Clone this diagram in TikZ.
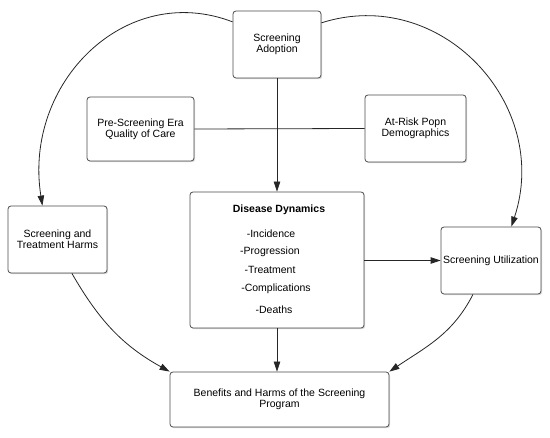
\documentclass[tikz,border=0pt]{standalone}
\usepackage{fontspec}
\setmainfont{Liberation Sans}
\usetikzlibrary{arrows.meta,shadows}
\begin{document}
\begin{tikzpicture}[x=1pt,y=1pt,
  box/.style={draw=black!70, line width=0.8pt, rounded corners=3pt, fill=white,
    align=center, inner sep=0pt, font=\fontsize{10.5}{11}\selectfont,
    drop shadow={shadow xshift=1.2pt, shadow yshift=-1.2pt, opacity=0.3}},
  txt/.style={inner sep=0pt, font=\fontsize{10.5}{11}\selectfont},
  conn/.style={draw=black!85, line width=0.8pt},
  arr/.style={conn, -{Triangle[length=10pt,width=6.5pt]}}]
\useasboundingbox (0,0) rectangle (550,-438);
% boxes
\node[box, minimum width=88pt, minimum height=67pt] (sa) at (277,-44.5) {Screening\\Adoption};
\node[box, minimum width=107pt, minimum height=64pt] (pre) at (140.5,-129) {Pre-Screening Era\\Quality of Care};
\node[box, minimum width=101pt, minimum height=67pt] (risk) at (415.5,-128.5) {At-Risk Popn\\Demographics};
\node[box, minimum width=174pt, minimum height=136pt] (dd) at (277,-260) {};
\node[box, minimum width=99pt, minimum height=67pt] (harms) at (57.5,-239.5) {Screening and\\Treatment Harms};
\node[box, minimum width=100pt, minimum height=67pt] (su) at (491,-260.5) {Screening Utilization};
\node[box, minimum width=219pt, minimum height=55pt] (ben) at (279.5,-399.5) {Benefits and Harms of the Screening\\Program};
% disease dynamics text
\node[txt, font=\fontsize{10.5}{11}\selectfont\bfseries] (ddt) at (279,-210) {Disease Dynamics};
\node[txt] (dd1) at (271,-234) {-Incidence};
\node[txt] (dd2) at (270,-252) {-Progression};
\node[txt] (dd3) at (270,-270) {-Treatment};
\node[txt] (dd4) at (276,-289) {-Complications};
\node[txt] (dd5) at (274,-310) {-Deaths};
% connectors
\draw[conn] (pre.east) -- (risk.west);
\draw[arr] (sa.south) -- (dd.north);
\draw[arr] (su.west -| dd.east) -- (su.west);
\draw[arr] (dd.south) -- (dd.south |- ben.north);
\draw[arr] (sa.153) .. controls +(159:115) and +(99:124) .. (harms.114);
\draw[arr] (sa.26) .. controls +(17.7:125) and +(71.7:129) .. (su.59);
\draw[arr] (harms.-67) to[out=-60,in=151] (ben.north west);
\draw[arr] (su.-118) to[out=-117,in=34] (ben.north east);
\end{tikzpicture}
\end{document}
